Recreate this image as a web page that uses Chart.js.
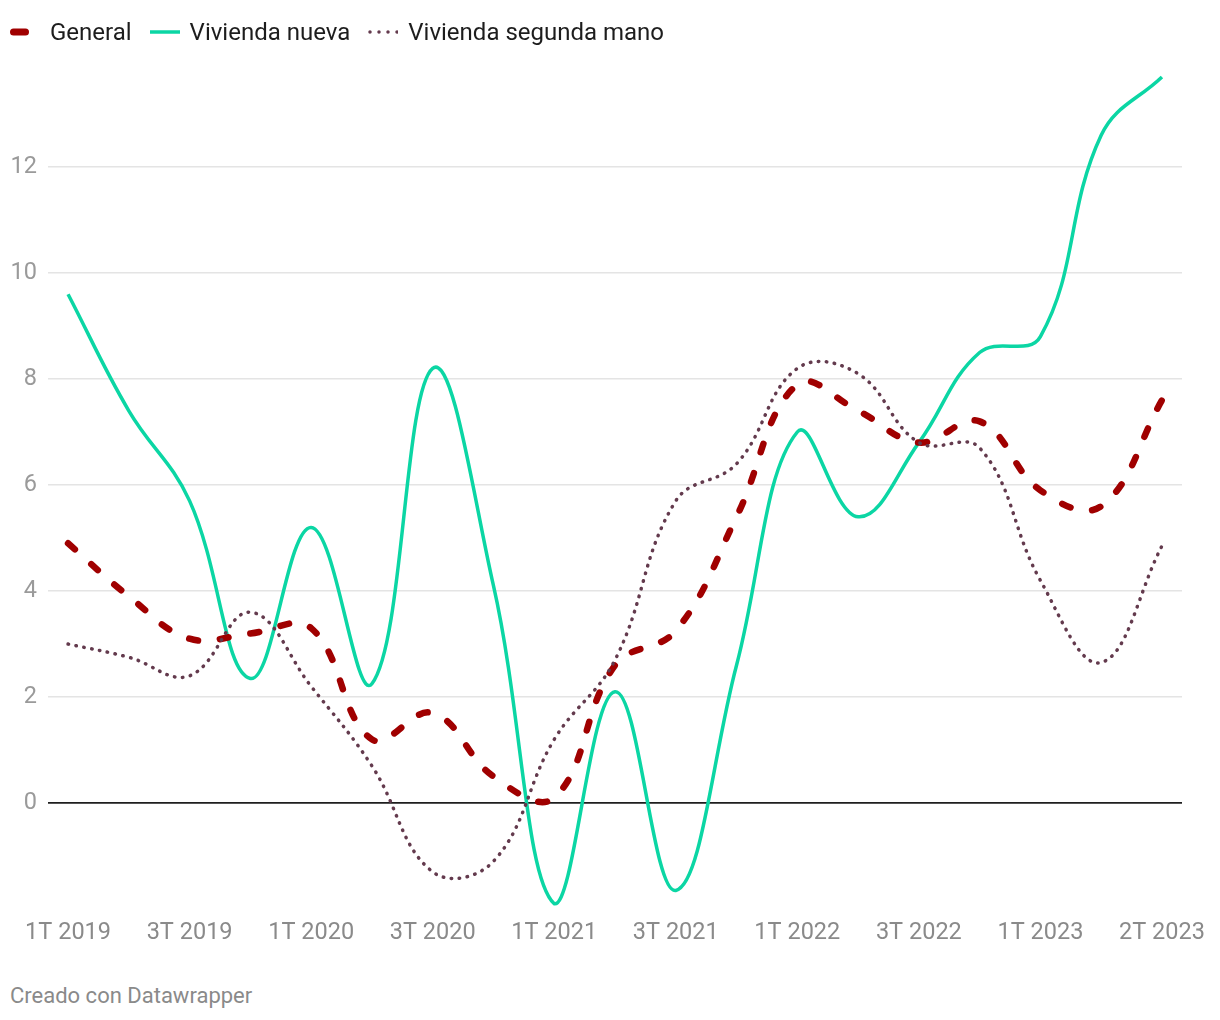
<!DOCTYPE html>
<html lang="es">
<head>
<meta charset="utf-8">
<title>Vivienda</title>
<script src="https://cdn.jsdelivr.net/npm/chart.js@4.4.1/dist/chart.umd.min.js"></script>
<style>
  body { margin: 0; background: #fff; font-family: Roboto, "Noto Sans", sans-serif; }
  #wrap { position: relative; width: 1220px; height: 1020px; }
  #c { position: absolute; left: 0; top: 0; }
  #legend { position: absolute; left: 10px; top: 18px; height: 28px; display: flex; align-items: center;
            font-size: 24px; color: #1d1d1d; z-index: 2; }
  #legend .item { display: flex; align-items: center; margin-right: 18px; }
  #legend svg { margin-right: 10px; }
  #footer { position: absolute; left: 10px; top: 983px; font-size: 22px; color: #8a8a8a; }
</style>
</head>
<body>
<div id="wrap">
  <canvas id="c" width="1220" height="960"></canvas>
  <div id="legend">
    <span class="item">
      <svg width="30" height="12"><line x1="3.5" y1="6" x2="15.5" y2="6" stroke="#a00000" stroke-width="7" stroke-linecap="round"/></svg>
      <span>General</span>
    </span>
    <span class="item">
      <svg width="30" height="12"><line x1="0" y1="6" x2="30" y2="6" stroke="#0bd6a4" stroke-width="3.5"/></svg>
      <span>Vivienda nueva</span>
    </span>
    <span class="item">
      <svg width="30" height="12"><line x1="2" y1="6" x2="30" y2="6" stroke="#633a4d" stroke-width="3.5" stroke-linecap="round" stroke-dasharray="0 9"/></svg>
      <span>Vivienda segunda mano</span>
    </span>
  </div>
  <div id="footer">Creado con Datawrapper</div>
</div>
<script>
// quarterly values, 19 points
const general = [4.9, 3.9, 3.1, 3.2, 3.3, 1.2, 1.7, 0.5, 0.1, 2.6, 3.25, 5.4, 7.9, 7.4, 6.8, 7.2, 5.9, 5.6, 7.6];
const nueva   = [9.6, 7.4, 5.7, 2.35, 5.2, 2.25, 8.2, 4.1, -1.9, 2.1, -1.65, 2.6, 7.0, 5.4, 6.8, 8.5, 8.8, 12.6, 13.7];
const segunda = [3.0, 2.75, 2.4, 3.6, 2.2, 0.7, -1.3, -1.1, 1.2, 2.7, 5.7, 6.4, 8.2, 8.1, 6.8, 6.7, 4.2, 2.65, 4.85];

const xTickIndex = [0, 2, 4, 6, 8, 10, 12, 14, 16, 18];
const xTickText = ['1T 2019', '3T 2019', '1T 2020', '3T 2020', '1T 2021', '3T 2021', '1T 2022', '3T 2022', '1T 2023', '2T 2023'];
const yTicks = [0, 2, 4, 6, 8, 10, 12];

function points(arr) {
    return arr.map((v, i) => ({ x: i, y: v }));
}

const ctx = document.getElementById('c').getContext('2d');
const chart = new Chart(ctx, {
    type: 'line',
    data: {
        datasets: [
            {
                label: 'Vivienda segunda mano',
                data: points(segunda),
                borderColor: '#633a4d',
                borderWidth: 3.5,
                borderDash: [0.5, 7.5],
                borderCapStyle: 'round',
                pointRadius: 0,
                tension: 0.4,
                order: 0
            },
            {
                label: 'General',
                data: points(general),
                borderColor: '#a00000',
                borderWidth: 6.5,
                borderDash: [9, 22],
                borderCapStyle: 'round',
                pointRadius: 0,
                tension: 0.4,
                order: 1
            },
            {
                label: 'Vivienda nueva',
                data: points(nueva),
                borderColor: '#0bd6a4',
                borderWidth: 3.5,
                pointRadius: 0,
                tension: 0.4,
                order: 2
            }
        ]
    },
    options: {
        responsive: false,
        animation: false,
        layout: { padding: { top: 61, right: 38, bottom: 0, left: 0 } },
        plugins: {
            legend: { display: false },
            tooltip: { enabled: false }
        },
        scales: {
            x: {
                type: 'linear',
                min: -0.33,
                max: 18.33,
                afterBuildTicks: (scale) => { scale.ticks = xTickIndex.map(v => ({ value: v })); },
                afterFit: (scale) => { scale.height = 51; },
                grid: { display: false },
                border: { display: false },
                ticks: {
                    autoSkip: false,
                    maxRotation: 0,
                    padding: 2,
                    color: '#8a8a8a',
                    font: { family: 'Roboto', size: 23.5 },
                    callback: (v) => xTickText[xTickIndex.indexOf(v)]
                }
            },
            y: {
                min: -2,
                max: 14,
                afterBuildTicks: (scale) => { scale.ticks = yTicks.map(v => ({ value: v })); },
                afterFit: (scale) => { scale.width = 48; },
                border: { display: false },
                grid: {
                    drawTicks: false,
                    color: (c) => c.tick && c.tick.value === 0 ? '#1e1e1e' : '#e4e4e4',
                    lineWidth: (c) => c.tick && c.tick.value === 0 ? 1.8 : 1.5
                },
                ticks: {
                    padding: 11,
                    color: '#9a9a9a',
                    font: { family: 'Roboto', size: 23.5 }
                }
            }
        }
    }
});
</script>
</body>
</html>
